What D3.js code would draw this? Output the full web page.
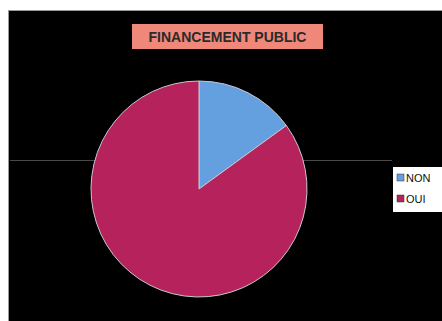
<!DOCTYPE html>
<html>
<head>
<meta charset="utf-8">
<script src="https://cdn.jsdelivr.net/npm/d3@7"></script>
<style>
  body { margin: 0; background: #fff; }
  svg { display: block; }
</style>
</head>
<body>
<div id="chart"></div>
<script>
// Data
const categories = ["NON", "OUI"];
const values = [15, 85];
const colors = ["#649fe0", "#b5225c"];
const title = "FINANCEMENT PUBLIC";

function init() {
    const width = 442;
    const height = 321;

    const svg = d3.select("#chart")
        .append("svg")
        .attr("width", width)
        .attr("height", height);

    // Black chart area
    svg.append("rect")
        .attr("x", 8.5)
        .attr("y", 10.5)
        .attr("width", width)
        .attr("height", height)
        .attr("fill", "#000")
        .attr("stroke", "#999");

    // faint scan line across the plot
    svg.append("line")
        .attr("x1", 10).attr("x2", 392)
        .attr("y1", 160.5).attr("y2", 160.5)
        .attr("stroke", "#4a4a4a")
        .attr("stroke-width", 1);

    // Title box
    svg.append("rect")
        .attr("x", 132)
        .attr("y", 24)
        .attr("width", 191)
        .attr("height", 25)
        .attr("fill", "#f0887a");

    svg.append("text")
        .attr("x", 227.5)
        .attr("y", 41.5)
        .attr("text-anchor", "middle")
        .attr("font-family", "Liberation Sans, Arial, sans-serif")
        .attr("font-size", 14)
        .attr("font-weight", "bold")
        .attr("fill", "#2a2a2a")
        .text(title);

    // Pie
    const radius = 108;
    const g = svg.append("g")
        .attr("transform", "translate(199,189)");

    const pie = d3.pie().sort(null);
    const arc = d3.arc().innerRadius(0).outerRadius(radius);

    g.selectAll("path")
        .data(pie(values))
        .enter()
        .append("path")
        .attr("d", arc)
        .attr("fill", (d, i) => colors[i])
        .attr("stroke", "#c8c8d0")
        .attr("stroke-width", 1);

    // Legend
    svg.append("rect")
        .attr("x", 393)
        .attr("y", 167)
        .attr("width", 52)
        .attr("height", 45)
        .attr("fill", "#fff");

    const legend = svg.selectAll(".legend")
        .data(categories)
        .enter()
        .append("g")
        .attr("transform", (d, i) => `translate(397,${174 + i * 21})`);

    legend.append("rect")
        .attr("width", 7)
        .attr("height", 7)
        .attr("fill", (d, i) => colors[i])
        .attr("stroke", "#333")
        .attr("stroke-width", 0.5);

    legend.append("text")
        .attr("x", 9)
        .attr("y", 7.5)
        .attr("font-family", "Liberation Sans, Arial, sans-serif")
        .attr("font-size", 11)
        .attr("fill", "#111")
        .text(d => d);
}

window.onload = init;
</script>
</body>
</html>
